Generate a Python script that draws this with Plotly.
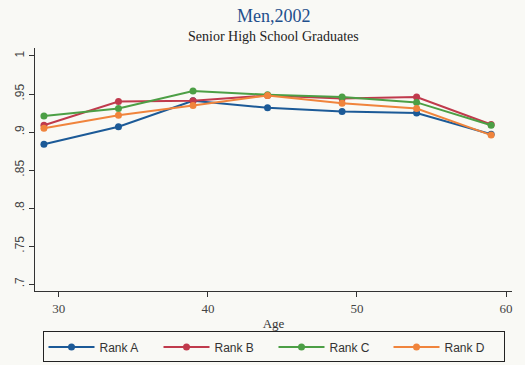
import plotly.graph_objects as go

# Age at which each group is measured
ages = [29, 34, 39, 44, 49, 54, 59]

# Ratio by rank group
rank_a = [0.884, 0.907, 0.941, 0.932, 0.927, 0.925, 0.897]
rank_b = [0.909, 0.940, 0.941, 0.948, 0.944, 0.946, 0.910]
rank_c = [0.921, 0.931, 0.954, 0.949, 0.946, 0.939, 0.909]
rank_d = [0.905, 0.922, 0.935, 0.948, 0.938, 0.931, 0.896]

series_names = ["Rank A", "Rank B", "Rank C", "Rank D"]
series_values = [rank_a, rank_b, rank_c, rank_d]
colors = ["#1c5a97", "#c03a4c", "#4c9f45", "#f0843c"]

y_ticks = [0.7, 0.75, 0.8, 0.85, 0.9, 0.95, 1.0]
y_tick_labels = [".7", ".75", ".8", ".85", ".9", ".95", "1"]
x_ticks = [30, 40, 50, 60]

fig = go.Figure()
for name, vals, col in zip(series_names, series_values, colors):
    fig.add_trace(go.Scatter(
        x=ages, y=vals, name=name, mode="lines+markers",
        line=dict(color=col, width=2),
        marker=dict(color=col, size=7),
    ))

bg = "#f9f9f5"
serif = "Liberation Serif, DejaVu Serif"
fig.update_layout(
    width=525, height=365,
    margin=dict(l=35, r=13, t=48, b=74, autoexpand=False),
    paper_bgcolor=bg, plot_bgcolor=bg,
    showlegend=True,
    legend=dict(
        orientation="h", x=0.5, xanchor="center",
        yref="container", y=0.092, yanchor="top",
        bordercolor="#222222", borderwidth=1, bgcolor=bg,
        font=dict(family="Liberation Sans, Arial", size=12, color="#333333"),
        itemwidth=46, entrywidth=54, tracegroupgap=0,
    ),
    annotations=[
        dict(text="Men,2002", xref="paper", yref="paper", x=0.5, y=1.0,
             yshift=20, showarrow=False, yanchor="bottom",
             font=dict(family=serif, size=18, color="#1e4f8c")),
        dict(text="Senior High School Graduates", xref="paper", yref="paper",
             x=0.5, y=1.0, yshift=2, showarrow=False, yanchor="bottom",
             font=dict(family=serif, size=14, color="#222222")),
    ],
)

fig.update_xaxes(
    range=[28.4, 60.4], tickvals=x_ticks,
    showgrid=False, zeroline=False,
    showline=True, linecolor="#333333", linewidth=1,
    ticks="outside", ticklen=5, tickcolor="#333333",
    tickfont=dict(family=serif, size=13, color="#444444"),
    title=dict(text="Age", standoff=4,
               font=dict(family=serif, size=13, color="#333333")),
)
fig.update_yaxes(
    range=[0.691, 1.0105], tickvals=y_ticks, ticktext=y_tick_labels,
    tickangle=-90,
    showgrid=False, zeroline=False,
    showline=True, linecolor="#333333", linewidth=1,
    ticks="outside", ticklen=5, tickcolor="#333333",
    tickfont=dict(family="Liberation Sans, Arial", size=12, color="#444444"),
)

fig.write_html("out.html")
